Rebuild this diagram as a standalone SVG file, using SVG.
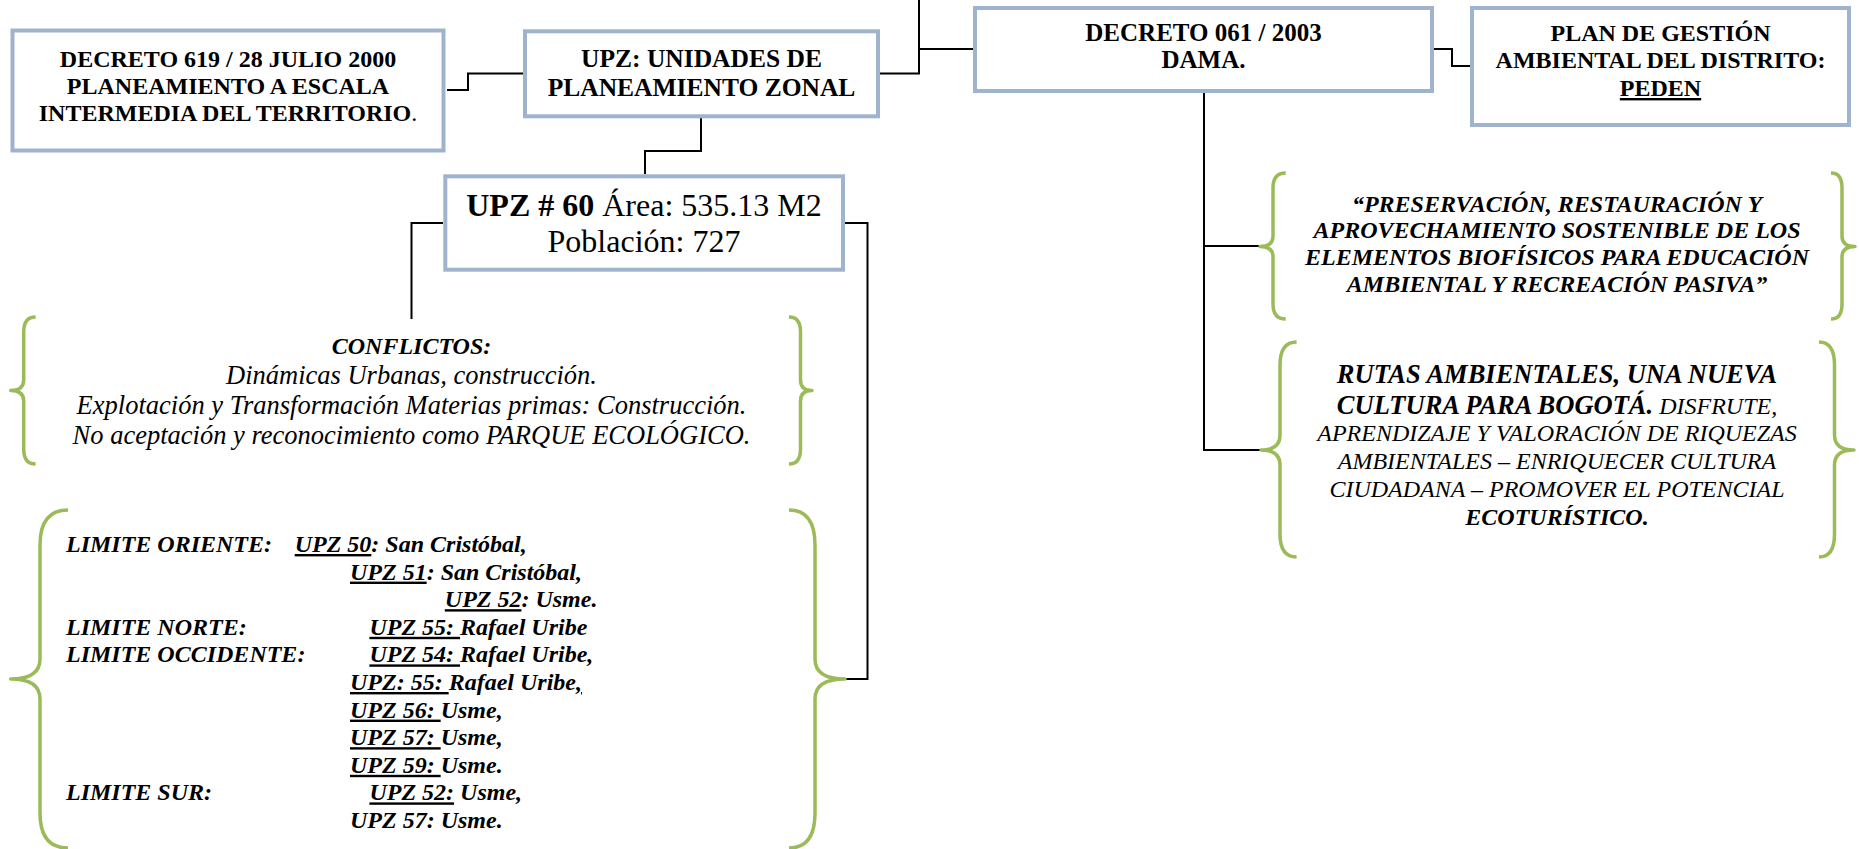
<svg xmlns="http://www.w3.org/2000/svg" width="1859" height="849" viewBox="0 0 1859 849">
<style>
.box{fill:#fff;stroke:#9FB3CD;stroke-width:4}
.brace{fill:none;stroke:#9BBB59;stroke-width:3.5;stroke-linecap:butt;stroke-linejoin:round}
.con{fill:none;stroke:#000;stroke-width:2}
text{font-family:"Liberation Serif","Times New Roman",serif;fill:#000}
.c{text-anchor:middle}
.b{font-weight:bold}
.n{font-weight:normal}
.it{font-style:italic}
.bi{font-weight:bold;font-style:italic}
.u{text-decoration:underline;text-decoration-thickness:2px}
.f24{font-size:24px}
.f25{font-size:25px}
.f255{font-size:25.5px}
.f265{font-size:26.5px}
.f32{font-size:32px}
</style>
<rect width="1859" height="849" fill="#fff"/>

<g id="connectors">
<path class="con" d="M447,90 H468 V73.5 H523"/>
<path class="con" d="M880,73.5 H919 V0"/>
<path class="con" d="M919,49 H973"/>
<path class="con" d="M701,118 V151 H645 V174"/>
<path class="con" d="M1434,49 H1452 V66 H1470"/>
<path class="con" d="M1204,93 V450 H1261"/>
<path class="con" d="M1204,246 H1259"/>
<path class="con" d="M443,223 H411.5 V319"/>
<path class="con" d="M845,223 H867.5 V679 H846"/>
</g>

<g id="decreto619">
<rect class="box" x="12.5" y="30.5" width="431" height="120"/>
<text class="c b f24" x="228" y="67">DECRETO 619 / 28 JULIO 2000</text>
<text class="c b f24" x="228" y="94">PLANEAMIENTO A ESCALA</text>
<text class="c b f24" x="228" y="121">INTERMEDIA DEL TERRITORIO<tspan class="n">.</tspan></text>
</g>

<g id="upz">
<rect class="box" x="525" y="31.3" width="353" height="85"/>
<text class="c b f255" x="701.5" y="67">UPZ: UNIDADES DE</text>
<text class="c b f255" x="701.5" y="96">PLANEAMIENTO ZONAL</text>
</g>

<g id="decreto061">
<rect class="box" x="975" y="8" width="457" height="83"/>
<text class="c b f25" x="1203.5" y="41">DECRETO 061 / 2003</text>
<text class="c b f25" x="1203.5" y="68">DAMA.</text>
</g>

<g id="plan">
<rect class="box" x="1472" y="8" width="377" height="117"/>
<text class="c b f24" x="1660.5" y="41">PLAN DE GESTIÓN</text>
<text class="c b f24" x="1660.5" y="68">AMBIENTAL DEL DISTRITO:</text>
<text class="c b f24" x="1660.5" y="96"><tspan class="u">PEDEN</tspan></text>
</g>

<g id="upz60">
<rect class="box" x="445.3" y="176.3" width="397.7" height="93.4"/>
<text class="c f32" x="644" y="216"><tspan class="b">UPZ # 60</tspan> Área: 535.13 M2</text>
<text class="c f32" x="644" y="252">Población: 727</text>
</g>

<g id="conflictos">
<path class="brace" d="M35.6,317 Q23.7,317 23.7,332 L23.7,380 Q23.7,390.5 10.7,390.5 Q23.7,390.5 23.7,401 L23.7,449 Q23.7,464 35.6,464"/>
<path class="brace" d="M789,317 Q800.5,317 800.5,332 L800.5,380 Q800.5,390.5 812,390.5 Q800.5,390.5 800.5,401 L800.5,449 Q800.5,464 789,464"/>
<text class="c bi f24" x="411.5" y="354">CONFLICTOS:</text>
<text class="c it f265" x="411.5" y="383.5">Dinámicas Urbanas, construcción.</text>
<text class="c it f265" x="411.5" y="413.5">Explotación y Transformación Materias primas: Construcción.</text>
<text class="c it f265" x="411.5" y="443.5">No aceptación y reconocimiento como PARQUE ECOLÓGICO.</text>
</g>

<g id="limites">
<path class="brace" d="M68,510 Q40,510 40,545 L40,659 Q40,679 10.7,679 Q40,679 40,699 L40,813 Q40,848 68,848"/>
<path class="brace" d="M789,510 Q815,510 815,545 L815,659 Q815,679 845,679 Q815,679 815,699 L815,813 Q815,848 789,848"/>
<text class="bi f24" y="552"><tspan x="66">LIMITE ORIENTE:</tspan><tspan x="294.7" class="u">UPZ 50</tspan>: San Cristóbal,</text>
<text class="bi f24" y="579.6"><tspan x="350" class="u">UPZ 51</tspan>: San Cristóbal,</text>
<text class="bi f24" y="607.2"><tspan x="444.8" class="u">UPZ 52</tspan>: Usme.</text>
<text class="bi f24" y="634.8"><tspan x="66">LIMITE NORTE:</tspan><tspan x="369.4" class="u">UPZ 55: </tspan>Rafael Uribe</text>
<text class="bi f24" y="662.4"><tspan x="66">LIMITE OCCIDENTE:</tspan><tspan x="369.4" class="u">UPZ 54: </tspan>Rafael Uribe,</text>
<text class="bi f24" y="690"><tspan x="350" class="u">UPZ: 55: </tspan>Rafael Uribe<tspan class="u">,</tspan></text>
<text class="bi f24" y="717.6"><tspan x="350" class="u">UPZ 56: </tspan>Usme,</text>
<text class="bi f24" y="745.2"><tspan x="350" class="u">UPZ 57: </tspan>Usme,</text>
<text class="bi f24" y="772.8"><tspan x="350" class="u">UPZ 59: </tspan>Usme.</text>
<text class="bi f24" y="800.4"><tspan x="66">LIMITE SUR:</tspan><tspan x="369.4" class="u">UPZ 52:</tspan> Usme,</text>
<text class="bi f24" y="828"><tspan x="350">UPZ 57: Usme.</tspan></text>
</g>

<g id="preservacion">
<path class="brace" d="M1285.7,173 Q1273,173 1273,188 L1273,236 Q1273,246.5 1260,246.5 Q1273,246.5 1273,257 L1273,304 Q1273,319 1285.7,319"/>
<path class="brace" d="M1831,173 Q1842,173 1842,188 L1842,236 Q1842,246.5 1855,246.5 Q1842,246.5 1842,257 L1842,304 Q1842,319 1831,319"/>
<text class="c bi f24" x="1557" y="212">“PRESERVACIÓN, RESTAURACIÓN Y</text>
<text class="c bi f24" x="1557" y="238">APROVECHAMIENTO SOSTENIBLE DE LOS</text>
<text class="c bi f24" x="1557" y="264.5">ELEMENTOS BIOFÍSICOS PARA EDUCACIÓN</text>
<text class="c bi f24" x="1557" y="292">AMBIENTAL Y RECREACIÓN PASIVA”</text>
</g>

<g id="rutas">
<path class="brace" d="M1296.6,342 Q1280,342 1280,365 L1280,435 Q1280,450 1261,450 Q1280,450 1280,465 L1280,534 Q1280,557 1296.6,557"/>
<path class="brace" d="M1819,342 Q1834.5,342 1834.5,365 L1834.5,435 Q1834.5,450 1854,450 Q1834.5,450 1834.5,465 L1834.5,534 Q1834.5,557 1819,557"/>
<text class="c bi f265" x="1557" y="383">RUTAS AMBIENTALES, UNA NUEVA</text>
<text class="c" x="1557" y="414"><tspan class="bi f265">CULTURA PARA BOGOTÁ.</tspan><tspan class="it f24"> DISFRUTE,</tspan></text>
<text class="c it f24" x="1557" y="441">APRENDIZAJE Y VALORACIÓN DE RIQUEZAS</text>
<text class="c it f24" x="1557" y="469">AMBIENTALES – ENRIQUECER CULTURA</text>
<text class="c it f24" x="1557" y="497">CIUDADANA – PROMOVER EL POTENCIAL</text>
<text class="c bi f24" x="1557" y="525">ECOTURÍSTICO.</text>
</g>
</svg>
